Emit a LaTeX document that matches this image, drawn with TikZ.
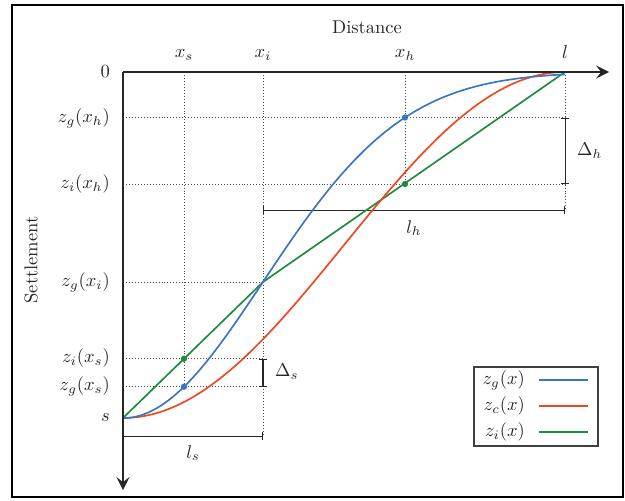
\documentclass[tikz,border=0pt]{standalone}
\usetikzlibrary{arrows.meta}
\definecolor{cblue}{HTML}{3B75C2}
\definecolor{cred}{HTML}{F2461E}
\definecolor{cgreen}{HTML}{1E8A3E}
\definecolor{ink}{HTML}{262626}
\begin{document}
\begin{tikzpicture}[x=0.54pt,y=-0.54pt,
  axisline/.style={line width=0.9pt,ink,-{Stealth[length=7pt,width=7pt,inset=2.8pt]}},
  gridline/.style={line width=0.45pt,black!70,dash pattern=on 0.5pt off 1.1pt},
  bracketline/.style={line width=0.55pt,ink,{Bar[width=4.5pt]}-{Bar[width=4.5pt]}},
  curve/.style={line width=0.9pt},
  lbl/.style={inner sep=1pt,font=\normalsize,text=ink},
  dotmark/.style={circle,inner sep=0pt,minimum size=3.4pt}]
\useasboundingbox (0,0) rectangle (625,500);
\draw[line width=1.1pt] (12,5) rectangle (623,497);

% key coordinates
\coordinate (O) at (123,72);
\coordinate (xend) at (609,72);
\coordinate (yend) at (123,490);
\coordinate (xs0) at (184,72);
\coordinate (xi0) at (263,72);
\coordinate (xh0) at (405,72);
\coordinate (l0) at (565,72);
\coordinate (S) at (123,418);
\coordinate (gxh) at (405,117.5);
\coordinate (ixh) at (405,184);
\coordinate (gxi) at (263,282);
\coordinate (ixs) at (184,358.7);
\coordinate (gxs) at (184,386.7);
\coordinate (zgh0) at (123,117.5);
\coordinate (zih0) at (123,184);
\coordinate (zgi0) at (123,282);
\coordinate (zis0) at (123,358.7);
\coordinate (zgs0) at (123,386.7);
\coordinate (dh1) at (565,117.5);
\coordinate (dh2) at (565,184);
\coordinate (ds1) at (263,358.7);
\coordinate (ds2) at (263,386.7);
\coordinate (lh1) at (263,210);
\coordinate (lh2) at (565,210);
\coordinate (ls1) at (123,436);
\coordinate (ls2) at (263,436);

% grid
\draw[gridline] (xs0) -- (gxs);
\draw[gridline] (xi0) -- (ls2);
\draw[gridline] (xh0) -- (ixh);
\draw[gridline] (l0) -- (lh2);
\draw[gridline] (zgh0) -- (dh1);
\draw[gridline] (zih0) -- (dh2);
\draw[gridline] (zgi0) -- (gxi);
\draw[gridline] (zis0) -- (ds1);
\draw[gridline] (zgs0) -- (ds2);

% brackets
\draw[bracketline] (lh1) -- (lh2);
\draw[bracketline] (dh1) -- (dh2);
\draw[bracketline] (ds1) -- (ds2);
\draw[bracketline] (ls1) -- (ls2);

% curves
\draw[curve,cgreen] (S) -- (gxi) -- (l0);
\draw[curve,cred] plot[domain=123:565,samples=120,smooth] (\x,{72+173*(1+cos(((\x-123)/442)*180))});
\draw[curve,cblue] plot[domain=123:565,samples=120,smooth] (\x,{72+346*exp(-((\x-123)/100)^2/3.92)});

% axes
\draw[axisline] (O) -- (xend);
\draw[axisline] (O) -- (yend);

% dots
\node[dotmark,fill=cblue] (dgh) at (gxh) {};
\node[dotmark,fill=cgreen] (dih) at (ixh) {};
\node[dotmark,fill=cgreen] (dis) at (ixs) {};
\node[dotmark,fill=cblue] (dgs) at (gxs) {};

% labels
\node[lbl] (dist) at (367,27) {Distance};
\node[lbl,rotate=90] (sett) at (31,260) {Settlement};
\node[lbl] (lxs) at (184,55) {$x_s$};
\node[lbl] (lxi) at (263,55) {$x_i$};
\node[lbl] (lxh) at (405,55) {$x_h$};
\node[lbl] (ll) at (565,52) {$l$};
\node[lbl,anchor=east] (l0lbl) at (112,72) {$0$};
\node[lbl,anchor=east] (lzgh) at (112,118) {$z_g(x_h)$};
\node[lbl,anchor=east] (lzih) at (112,184) {$z_i(x_h)$};
\node[lbl,anchor=east] (lzgi) at (112,282) {$z_g(x_i)$};
\node[lbl,anchor=east] (lzis) at (112,358) {$z_i(x_s)$};
\node[lbl,anchor=east] (lzgs) at (112,386) {$z_g(x_s)$};
\node[lbl,anchor=east] (ls) at (112,417) {$s$};
\node[lbl,anchor=west] (ldh) at (575,151) {$\Delta_h$};
\node[lbl,anchor=west] (lds) at (273,372) {$\Delta_s$};
\node[lbl] (llh) at (414,228) {$l_h$};
\node[lbl] (lls) at (193,453) {$l_s$};

% legend
\draw[line width=0.7pt,black!75] (474,367) rectangle (598,446);
\node[lbl,anchor=east] (leg1) at (527,380) {$z_g(x)$};
\node[lbl,anchor=east] (leg2) at (527,406) {$z_c(x)$};
\node[lbl,anchor=east] (leg3) at (527,432) {$z_i(x)$};
\coordinate (g1a) at (539,380); \coordinate (g1b) at (588,380);
\coordinate (g2a) at (539,406); \coordinate (g2b) at (588,406);
\coordinate (g3a) at (539,432); \coordinate (g3b) at (588,432);
\draw[curve,cblue] (g1a) -- (g1b);
\draw[curve,cred] (g2a) -- (g2b);
\draw[curve,cgreen] (g3a) -- (g3b);
\end{tikzpicture}
\end{document}
